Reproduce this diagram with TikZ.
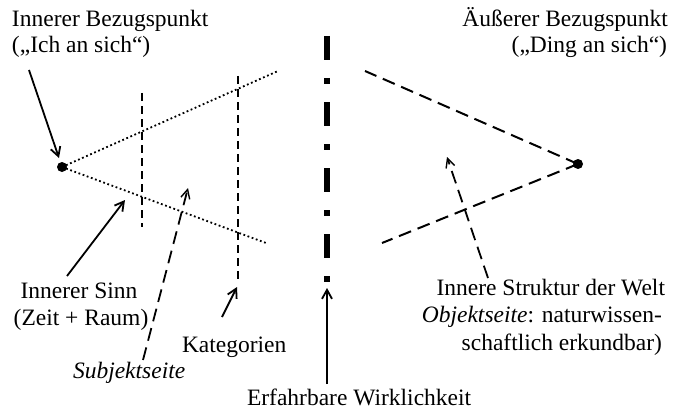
\documentclass[tikz,border=0pt]{standalone}
\usepackage{fontspec}
\setmainfont{Liberation Serif}
\usetikzlibrary{arrows.meta}
\begin{document}
\begin{tikzpicture}[x=1pt,y=-1pt,inner sep=0pt,outer sep=0pt,
  lbl/.style={font=\fontsize{23.5}{27}\selectfont},
  dot/.style={circle,fill=black,minimum size=10pt},
  tipv/.style={-{Straight Barb[length=9pt,width=10pt,line width=1.8pt]}},
  arr/.style={tipv,line width=1.8pt},
  dashedarr/.style={line width=1.8pt,dash pattern=on 13pt off 7pt,-{Straight Barb[length=9pt,width=9pt,line width=1.4pt]}},
  dotline/.style={line width=1.8pt,dash pattern=on 1.8pt off 2.6pt},
  shortdash/.style={line width=2pt,dash pattern=on 8pt off 5pt},
  longdash/.style={line width=2pt,dash pattern=on 13pt off 7pt},
  border/.style={line width=6pt,dash pattern=on 24pt off 18pt on 6pt off 18pt}]
\useasboundingbox (0,0) rectangle (683,412);
% labels
\node[lbl,anchor=base west] (ib1) at (12,27) {Innerer Bezugspunkt};
\node[lbl,anchor=base west] (ib2) at (12,53) {(„Ich an sich“)};
\node[lbl,anchor=base east] (ab1) at (668,27) {Äußerer Bezugspunkt};
\node[lbl,anchor=base east] (ab2) at (667,53) {(„Ding an sich“)};
\node[lbl,anchor=base] (is1) at (79,298) {Innerer Sinn};
\node[lbl,anchor=base] (is2) at (81,325) {(Zeit + Raum)};
\node[lbl,anchor=base west] (kat) at (182,352) {Kategorien};
\node[lbl,anchor=base west] (subj) at (73,378) {\itshape Subjektseite};
\node[lbl,anchor=base west] (ew) at (247,405) {Erfahrbare Wirklichkeit};
\node[lbl,anchor=base east] (sw1) at (665,295) {Innere Struktur der Welt};
\node[lbl,anchor=base east] (sw2) at (662,322) {\textit{Objektseite}: naturwissen-};
\node[lbl,anchor=base east] (sw3) at (662,350) {schaftlich erkundbar)};
% points
\node[dot] (ip) at (62,167) {};
\node[dot] (op) at (578,164) {};
% coordinates
\coordinate (iu) at (278,71);
\coordinate (il) at (266,243);
\coordinate (ou) at (365,71);
\coordinate (ol) at (382,243);
\coordinate (v1t) at (142,93);
\coordinate (v1b) at (142,227);
\coordinate (v2t) at (238,76);
\coordinate (v2b) at (238,280);
\coordinate (ct) at (327,36);
\coordinate (cb) at (327,284);
\coordinate (cbt) at (327,288);
\coordinate (ews) at (327,384);
\coordinate (ibs) at (29,70);
\coordinate (ipt) at (59,158);
\coordinate (iss) at (67,276);
\coordinate (ise) at (125,200);
\coordinate (sbs) at (143,360);
\coordinate (sbe) at (188,188);
\coordinate (kas) at (222,317);
\coordinate (kae) at (237,287);
\coordinate (sws) at (488,278);
\coordinate (swe) at (447,157);
% cone lines
\draw[dotline] (ip.center) -- (iu);
\draw[dotline] (ip.center) -- (il);
\draw[longdash] (op.center) -- (ou);
\draw[longdash] (op.center) -- (ol);
% verticals
\draw[shortdash] (v1t) -- (v1b);
\draw[shortdash] (v2t) -- (v2b);
\draw[border] (ct) -- (cb);
% arrows
\draw[arr] (ibs) -- (ipt);
\draw[arr] (iss) -- (ise);
\draw[arr] (kas) -- (kae);
\draw[arr] (ews) -- (cbt);
\draw[dashedarr] (sbs) -- (sbe);
\draw[dashedarr] (sws) -- (swe);
\end{tikzpicture}
\end{document}
